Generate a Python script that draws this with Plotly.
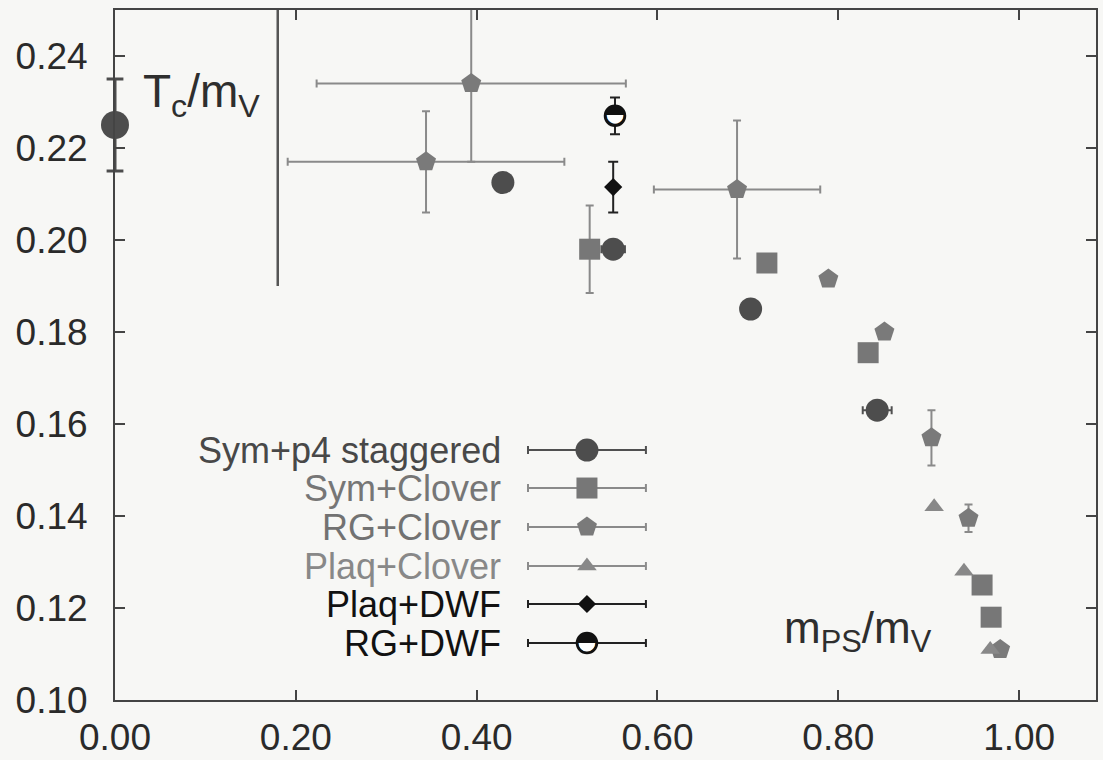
import plotly.graph_objects as go

FONT = "Liberation Sans"
GLYPH_FONT = "DejaVu Sans"

# ---- data -------------------------------------------------------------
# chiral-limit estimate of Tc/mV
chiral_x = [0.0]
chiral_y = [0.225]
chiral_yerr = [0.010]

# vertical marker at the physical-ish mass ratio
cut_x = [0.18, 0.18]
cut_y = [0.19, 0.25]

# Sym+p4 staggered
stag_x = [0.429, 0.551, 0.703, 0.843]
stag_y = [0.2125, 0.198, 0.185, 0.163]
stag_xerr = [0.0, 0.013, 0.0, 0.016]

# Sym+Clover
symclov_x = [0.525, 0.721, 0.833, 0.959, 0.969]
symclov_y = [0.198, 0.195, 0.1755, 0.125, 0.118]
symclov_yerr = [0.0095, 0.0, 0.0, 0.0, 0.0]

# RG+Clover
rgclov_x = [0.394, 0.344, 0.688, 0.789, 0.851, 0.903, 0.944, 0.979]
rgclov_y = [0.234, 0.217, 0.211, 0.1915, 0.180, 0.157, 0.1395, 0.111]
rgclov_xerr = [0.171, 0.153, 0.092, 0.0, 0.0, 0.0, 0.0, 0.0]
rgclov_yerr = [0.017, 0.011, 0.015, 0.0, 0.0, 0.006, 0.003, 0.0]

# Plaq+Clover
plaqclov_x = [0.906, 0.939, 0.968]
plaqclov_y = [0.142, 0.128, 0.111]

# Plaq+DWF
plaqdwf_x = [0.551]
plaqdwf_y = [0.2115]
plaqdwf_yerr = [0.0055]

# RG+DWF
rgdwf_x = [0.553]
rgdwf_y = [0.227]
rgdwf_yerr = [0.004]

x_ticks = [0.0, 0.2, 0.4, 0.6, 0.8, 1.0]
x_ticktext = ["0.00", "0.20", "0.40", "0.60", "0.80", "1.00"]
y_ticks = [0.10, 0.12, 0.14, 0.16, 0.18, 0.20, 0.22, 0.24]
y_ticktext = ["0.10", "0.12", "0.14", "0.16", "0.18", "0.20", "0.22", "0.24"]

legend_names = ["Sym+p4 staggered", "Sym+Clover", "RG+Clover",
                "Plaq+Clover", "Plaq+DWF", "RG+DWF"]
legend_rows = [0.3623, 0.3072, 0.2507, 0.1942, 0.1391, 0.0826]

# ---- styles -----------------------------------------------------------
styles = {
    "Sym+p4 staggered": dict(symbol="circle", size=23, color="#4d4d4d", text="#484848", err="#505050"),
    "Sym+Clover": dict(symbol="square", size=21, color="#777777", text="#767676", err="#8a8a8a"),
    "RG+Clover": dict(symbol="pentagon", size=21, color="#7a7a7a", text="#727272", err="#8a8a8a"),
    "Plaq+Clover": dict(symbol="triangle-up", size=17, color="#888888", text="#888888", err="#8c8c8c"),
    "Plaq+DWF": dict(symbol="diamond", size=14, color="#111111", text="#111111", err="#222222"),
    "RG+DWF": dict(symbol="circle-open", size=20, color="#111111", text="#111111", err="#222222"),
}
HALF_DISC = "\u25d3"

fig = go.Figure()

# vertical reference line
fig.add_trace(go.Scatter(x=cut_x, y=cut_y, mode="lines",
                         line=dict(color="#555555", width=2.5), hoverinfo="skip"))

# Sym+Clover
s = styles["Sym+Clover"]
fig.add_trace(go.Scatter(
    x=symclov_x, y=symclov_y, mode="markers",
    marker=dict(symbol=s["symbol"], size=s["size"], color=s["color"]),
    error_y=dict(type="data", array=symclov_yerr, color=s["err"], thickness=2, width=4)))

# RG+Clover
s = styles["RG+Clover"]
fig.add_trace(go.Scatter(
    x=rgclov_x, y=rgclov_y, mode="markers",
    marker=dict(symbol=s["symbol"], size=s["size"], color=s["color"]),
    error_x=dict(type="data", array=rgclov_xerr, color=s["err"], thickness=2, width=4),
    error_y=dict(type="data", array=rgclov_yerr, color=s["err"], thickness=2, width=4)))

# Plaq+Clover
s = styles["Plaq+Clover"]
fig.add_trace(go.Scatter(
    x=plaqclov_x, y=plaqclov_y, mode="markers",
    marker=dict(symbol=s["symbol"], size=s["size"], color=s["color"])))

# Sym+p4 staggered
s = styles["Sym+p4 staggered"]
fig.add_trace(go.Scatter(
    x=stag_x, y=stag_y, mode="markers",
    marker=dict(symbol=s["symbol"], size=s["size"], color=s["color"]),
    error_x=dict(type="data", array=stag_xerr, color=s["err"], thickness=2, width=4)))

# Plaq+DWF
s = styles["Plaq+DWF"]
fig.add_trace(go.Scatter(
    x=plaqdwf_x, y=plaqdwf_y, mode="markers",
    marker=dict(symbol=s["symbol"], size=s["size"], color=s["color"]),
    error_y=dict(type="data", array=plaqdwf_yerr, color=s["err"], thickness=2, width=5)))

# RG+DWF: error bar, white disc, then half-filled glyph on top
s = styles["RG+DWF"]
fig.add_trace(go.Scatter(
    x=rgdwf_x, y=rgdwf_y, mode="markers",
    marker=dict(symbol="circle", size=s["size"], color="white",
                line=dict(color="#111111", width=2.5)),
    error_y=dict(type="data", array=rgdwf_yerr, color=s["err"], thickness=2, width=5)))
fig.add_trace(go.Scatter(
    x=rgdwf_x, y=rgdwf_y, mode="text", text=[HALF_DISC] * len(rgdwf_x),
    textposition="middle center",
    textfont=dict(family=GLYPH_FONT, size=26, color="#111111")))

# chiral-limit point; the caps sit on the frame, so they are drawn as
# unclipped tick markers at y +/- err
fig.add_trace(go.Scatter(
    x=chiral_x, y=chiral_y, mode="markers", cliponaxis=False,
    marker=dict(symbol="circle", size=28, color="#4d4d4d"),
    error_y=dict(type="data", array=chiral_yerr, color="#4d4d4d", thickness=3, width=0)))
cap_x = [cx for cx in chiral_x for _ in (0, 1)]
cap_y = [cy + sgn * ce for cy, ce in zip(chiral_y, chiral_yerr) for sgn in (1, -1)]
fig.add_trace(go.Scatter(
    x=cap_x, y=cap_y, mode="markers", cliponaxis=False,
    marker=dict(symbol="line-ew", size=12, line=dict(color="#4d4d4d", width=3))))

# ---- legend drawn on a unit overlay axis --------------------------------
LEG_X = 0.4811
LEG_HALF = 0.0601
for name, ry in zip(legend_names, legend_rows):
    s = styles[name]
    if name == "RG+DWF":
        fig.add_trace(go.Scatter(
            x=[LEG_X], y=[ry], xaxis="x2", yaxis="y2", mode="markers",
            marker=dict(symbol="circle", size=s["size"], color="white",
                        line=dict(color="#111111", width=2.5)),
            error_x=dict(type="data", array=[LEG_HALF], color=s["err"], thickness=2, width=4)))
        fig.add_trace(go.Scatter(
            x=[LEG_X], y=[ry], xaxis="x2", yaxis="y2", mode="text", text=[HALF_DISC],
            textposition="middle center",
            textfont=dict(family=GLYPH_FONT, size=26, color="#111111")))
    else:
        fig.add_trace(go.Scatter(
            x=[LEG_X], y=[ry], xaxis="x2", yaxis="y2", mode="markers",
            marker=dict(symbol=s["symbol"], size=s["size"], color=s["color"]),
            error_x=dict(type="data", array=[LEG_HALF], color=s["err"], thickness=2, width=4)))
    fig.add_annotation(x=0.3955, y=ry, xref="x2", yref="y2", text=name,
                       showarrow=False, xanchor="right", yanchor="middle",
                       font=dict(family=FONT, size=36, color=s["text"]))

# axis titles placed inside the frame
fig.add_annotation(x=0.0265, y=0.878, xref="paper", yref="paper",
                   text="T<sub>c</sub>/m<sub>V</sub>", showarrow=False,
                   xanchor="left", yanchor="middle",
                   font=dict(family=FONT, size=46, color="#2e2e2e"))
fig.add_annotation(x=0.680, y=0.1, xref="paper", yref="paper",
                   text="m<sub>PS</sub>/m<sub>V</sub>", showarrow=False,
                   xanchor="left", yanchor="middle",
                   font=dict(family=FONT, size=44, color="#2e2e2e"))

axis_common = dict(ticks="inside", ticklen=10, tickwidth=2, tickcolor="#444444",
                   showline=True, linecolor="#444444", linewidth=2, mirror="ticks",
                   showgrid=False, zeroline=False, automargin=False,
                   tickfont=dict(family=FONT, size=37, color="#2a2a2a"))

fig.update_layout(
    width=1103, height=760,
    margin=dict(l=115, r=7, t=10, b=60),
    paper_bgcolor="#f7f7f5", plot_bgcolor="#f7f7f5",
    showlegend=False,
    font=dict(family=FONT, size=36, color="#2a2a2a"),
    xaxis=dict(range=[0, 1.085], tickvals=x_ticks, ticktext=x_ticktext,
               ticklabelstandoff=4, **axis_common),
    yaxis=dict(range=[0.10, 0.25], tickvals=y_ticks, ticktext=y_ticktext,
               ticklabelstandoff=18, **axis_common),
    xaxis2=dict(range=[0, 1], overlaying="x", visible=False),
    yaxis2=dict(range=[0, 1], overlaying="y", visible=False),
)

fig.write_html("out.html")
